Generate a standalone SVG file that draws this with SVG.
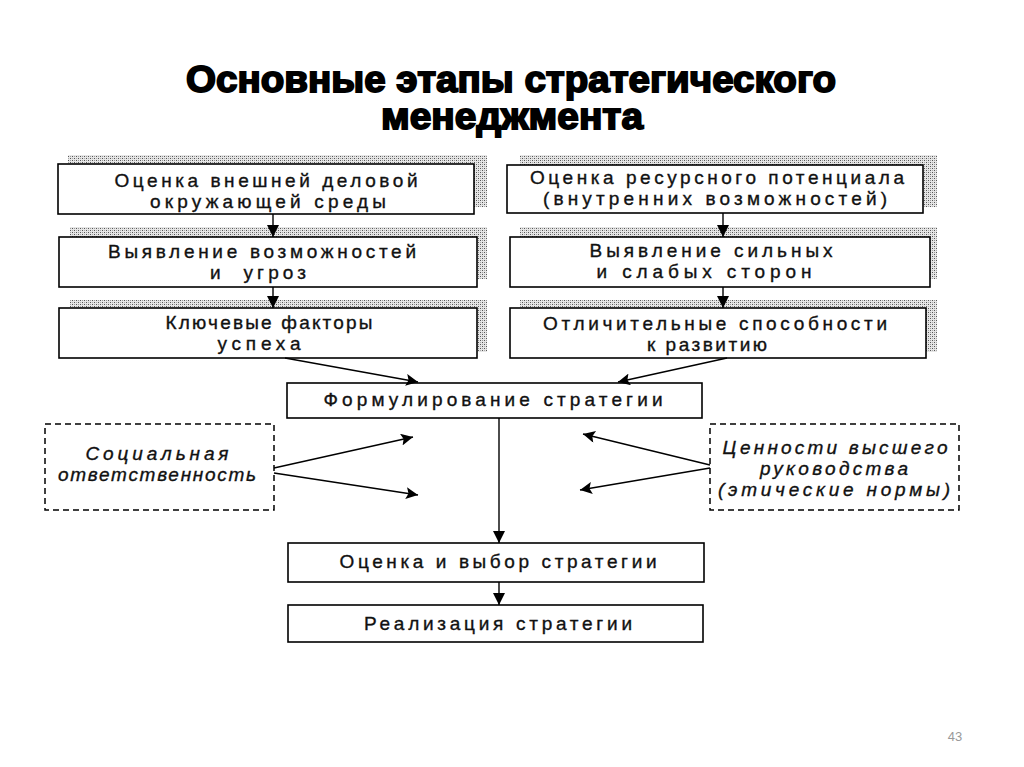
<svg xmlns="http://www.w3.org/2000/svg" width="1024" height="767" viewBox="0 0 1024 767">
<defs>
<pattern id="hatch" width="4" height="4" patternUnits="userSpaceOnUse">
<rect width="4" height="4" fill="#e6e6e6"/>
<rect x="0" y="0" width="1" height="1" fill="#555"/>
<rect x="2" y="2" width="1" height="1" fill="#555"/>
<rect x="2" y="0" width="1" height="1" fill="#999"/>
<rect x="0" y="2" width="1" height="1" fill="#aaa"/>
</pattern>
<marker id="arr" viewBox="0 0 10 10" refX="10" refY="5" markerWidth="12" markerHeight="12" markerUnits="userSpaceOnUse" orient="auto">
<path d="M0,0 L10,5 L0,10 Z" fill="#000"/>
</marker>
<marker id="arrS" viewBox="0 0 10 10" refX="10" refY="5" markerWidth="14" markerHeight="12" markerUnits="userSpaceOnUse" orient="auto">
<path d="M0,0 L10,5 L0,10 L2,5 Z" fill="#000"/>
</marker>
</defs>
<style>
.box{fill:#fff;stroke:#000;stroke-width:1.6}
.dash{fill:#fff;stroke:#000;stroke-width:1.5;stroke-dasharray:6 4}
.sh{fill:url(#hatch)}
.t{font-family:"Liberation Sans",Arial,sans-serif;font-size:19px;fill:#111;text-anchor:middle;stroke:#111;stroke-width:0.35}
.ti{font-family:"Liberation Sans",Arial,sans-serif;font-size:19px;font-style:italic;fill:#111;text-anchor:middle;stroke:#111;stroke-width:0.35}
.title{font-family:"Liberation Sans",Arial,sans-serif;font-size:37px;font-weight:bold;fill:#000;stroke:#000;stroke-width:1.8;text-anchor:middle}
.ln{stroke:#000;stroke-width:1.4;fill:none}
</style>
<rect width="1024" height="767" fill="#fff"/>
<g id="title">
<text class="title" x="511" y="92" textLength="650" lengthAdjust="spacingAndGlyphs">Основные этапы стратегического</text>
<text class="title" x="512" y="129" textLength="262" lengthAdjust="spacingAndGlyphs">менеджмента</text>
</g>
<g id="n-external">
<rect class="sh" x="68" y="155" width="419" height="52"/>
<rect class="box" x="58" y="164" width="416" height="50"/>
<text class="t" x="266" y="187" textLength="303">Оценка внешней деловой</text>
<text class="t" x="268" y="208" textLength="236">окружающей среды</text>
</g>
<g id="n-opportunities">
<rect class="sh" x="70" y="227" width="417" height="52"/>
<rect class="box" x="59" y="237" width="418" height="50"/>
<text class="t" x="262" y="258" textLength="308">Выявление возможностей</text>
<text class="t" x="258" y="279" textLength="96" xml:space="preserve">и  угроз</text>
</g>
<g id="n-kfs">
<rect class="sh" x="70" y="300" width="417" height="52"/>
<rect class="box" x="59" y="308" width="418" height="50"/>
<text class="t" x="269" y="329" textLength="207">Ключевые факторы</text>
<text class="t" x="259" y="350" textLength="83">успеха</text>
</g>
<g id="n-resources">
<rect class="sh" x="520" y="155" width="417" height="52"/>
<rect class="box" x="507" y="165" width="416" height="48"/>
<text class="t" x="717" y="184" textLength="374">Оценка ресурсного потенциала</text>
<text class="t" x="715" y="205" textLength="344">(внутренних возможностей)</text>
</g>
<g id="n-strengths">
<rect class="sh" x="520" y="227" width="417" height="52"/>
<rect class="box" x="510" y="237" width="420" height="50"/>
<text class="t" x="711" y="257" textLength="243">Выявление сильных</text>
<text class="t" x="704" y="278" textLength="215">и слабых сторон</text>
</g>
<g id="n-competencies">
<rect class="sh" x="520" y="300" width="417" height="52"/>
<rect class="box" x="510" y="308" width="416" height="50"/>
<text class="t" x="715" y="330" textLength="344">Отличительные способности</text>
<text class="t" x="707" y="351" textLength="120">к развитию</text>
</g>
<g id="n-formulation">
<rect class="box" x="287" y="383" width="415" height="35"/>
<text class="t" x="493" y="406" textLength="339">Формулирование стратегии</text>
</g>
<g id="n-social">
<rect class="dash" x="45" y="424" width="229" height="86"/>
<text class="ti" x="157" y="460" textLength="143">Социальная</text>
<text class="ti" x="157" y="481" textLength="198">ответственность</text>
</g>
<g id="n-values">
<rect class="dash" x="710" y="424" width="249" height="86"/>
<text class="ti" x="835" y="454" textLength="225">Ценности высшего</text>
<text class="ti" x="834" y="475" textLength="148">руководства</text>
<text class="ti" x="834" y="496" textLength="232">(этические нормы)</text>
</g>
<g id="n-evaluation">
<rect class="box" x="288" y="543" width="416" height="39"/>
<text class="t" x="498" y="568" textLength="317">Оценка и выбор стратегии</text>
</g>
<g id="n-implementation">
<rect class="box" x="288" y="605" width="415" height="37"/>
<text class="t" x="498" y="630" textLength="268">Реализация стратегии</text>
</g>
<g id="connectors">
<line class="ln" x1="273" y1="214" x2="273" y2="237" marker-end="url(#arr)"/>
<line class="ln" x1="273" y1="287" x2="273" y2="308" marker-end="url(#arr)"/>
<line class="ln" x1="723" y1="213" x2="723" y2="237" marker-end="url(#arr)"/>
<line class="ln" x1="723" y1="287" x2="723" y2="308" marker-end="url(#arr)"/>
<line class="ln" x1="285" y1="358" x2="418" y2="382" marker-end="url(#arrS)"/>
<line class="ln" x1="727" y1="358" x2="618" y2="382" marker-end="url(#arrS)"/>
<line class="ln" x1="274" y1="468" x2="413" y2="437" marker-end="url(#arrS)"/>
<line class="ln" x1="274" y1="473" x2="418" y2="495" marker-end="url(#arrS)"/>
<line class="ln" x1="710" y1="465" x2="583" y2="434" marker-end="url(#arrS)"/>
<line class="ln" x1="710" y1="468" x2="580" y2="490" marker-end="url(#arrS)"/>
<line class="ln" x1="499" y1="418" x2="499" y2="543" marker-end="url(#arr)"/>
<line class="ln" x1="499" y1="582" x2="499" y2="605" marker-end="url(#arr)"/>
</g>
<text x="955" y="741" font-family="Liberation Sans, Arial, sans-serif" font-size="13" fill="#999" text-anchor="middle">43</text>
</svg>
